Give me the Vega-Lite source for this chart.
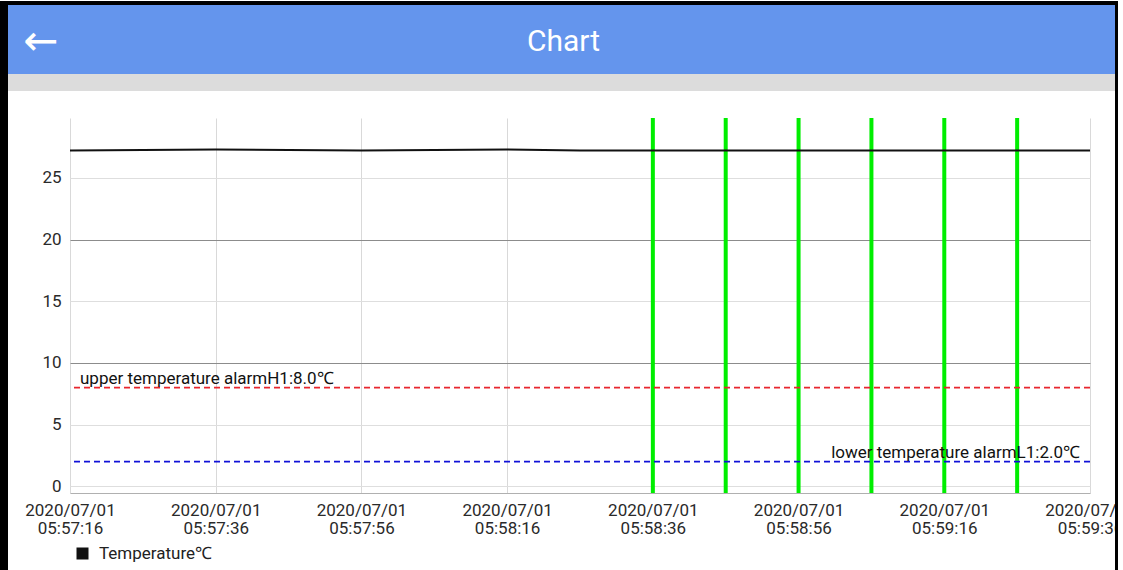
{
  "$schema": "https://vega.github.io/schema/vega-lite/v6.json",
  "padding": 0,
  "background": "white",
  "spacing": 0,
  "bounds": "flush",
  "align": "each",
  "columns": 6,
  "data": {"values": [{}]},
  "config": {
    "font": "Roboto",
    "view": {"stroke": null},
    "concat": {"spacing": 0}
  },
  "concat": [
    {"width": 8, "height": 4, "view": {"fill": "black", "stroke": null}, "mark": {"type": "point", "opacity": 0}, "encoding": {}},
    {"width": 62, "height": 4, "view": {"fill": "black", "stroke": null}, "mark": {"type": "point", "opacity": 0}, "encoding": {}},
    {"width": 1020, "height": 4, "view": {"fill": "black", "stroke": null}, "mark": {"type": "point", "opacity": 0}, "encoding": {}},
    {"width": 25, "height": 4, "view": {"fill": "black", "stroke": null}, "mark": {"type": "point", "opacity": 0}, "encoding": {}},
    {"width": 3, "height": 4, "view": {"fill": "black", "stroke": null}, "mark": {"type": "point", "opacity": 0}, "encoding": {}},
    {"width": 25, "height": 4, "view": {"fill": "white", "stroke": null}, "mark": {"type": "point", "opacity": 0}, "encoding": {}},

    {"width": 8, "height": 69, "view": {"fill": "black", "stroke": null}, "mark": {"type": "point", "opacity": 0}, "encoding": {}},
    {
      "width": 62, "height": 69, "view": {"fill": "#6495ED", "stroke": null},
      "data": {"values": [{"label": "←", "pos": 0.53}]},
      "mark": {"type": "text", "font": "DejaVu Sans", "fontSize": 42, "color": "white", "baseline": "middle", "align": "center", "dy": 2},
      "encoding": {
        "x": {"field": "pos", "type": "quantitative", "scale": {"domain": [0, 1]}, "axis": null},
        "text": {"field": "label"}
      }
    },
    {
      "width": 1020, "height": 69, "view": {"fill": "#6495ED", "stroke": null},
      "data": {"values": [{"label": "Chart", "pos": 0.4838}]},
      "mark": {"type": "text", "font": "Roboto", "fontSize": 30, "color": "white", "baseline": "middle", "align": "center", "dy": 2},
      "encoding": {
        "x": {"field": "pos", "type": "quantitative", "scale": {"domain": [0, 1]}, "axis": null},
        "text": {"field": "label"}
      }
    },
    {"width": 25, "height": 69, "view": {"fill": "#6495ED", "stroke": null}, "mark": {"type": "point", "opacity": 0}, "encoding": {}},
    {"width": 3, "height": 69, "view": {"fill": "black", "stroke": null}, "mark": {"type": "point", "opacity": 0}, "encoding": {}},
    {"width": 25, "height": 69, "view": {"fill": "white", "stroke": null}, "mark": {"type": "point", "opacity": 0}, "encoding": {}},

    {"width": 8, "height": 17, "view": {"fill": "black", "stroke": null}, "mark": {"type": "point", "opacity": 0}, "encoding": {}},
    {"width": 62, "height": 17, "view": {"fill": "#DCDCDC", "stroke": null}, "mark": {"type": "point", "opacity": 0}, "encoding": {}},
    {"width": 1020, "height": 17, "view": {"fill": "#DCDCDC", "stroke": null}, "mark": {"type": "point", "opacity": 0}, "encoding": {}},
    {"width": 25, "height": 17, "view": {"fill": "#DCDCDC", "stroke": null}, "mark": {"type": "point", "opacity": 0}, "encoding": {}},
    {"width": 3, "height": 17, "view": {"fill": "black", "stroke": null}, "mark": {"type": "point", "opacity": 0}, "encoding": {}},
    {"width": 25, "height": 17, "view": {"fill": "white", "stroke": null}, "mark": {"type": "point", "opacity": 0}, "encoding": {}},

    {"width": 8, "height": 27, "view": {"fill": "black", "stroke": null}, "mark": {"type": "point", "opacity": 0}, "encoding": {}},
    {"width": 62, "height": 27, "mark": {"type": "point", "opacity": 0}, "encoding": {}},
    {"width": 1020, "height": 27, "mark": {"type": "point", "opacity": 0}, "encoding": {}},
    {"width": 25, "height": 27, "mark": {"type": "point", "opacity": 0}, "encoding": {}},
    {"width": 3, "height": 27, "view": {"fill": "black", "stroke": null}, "mark": {"type": "point", "opacity": 0}, "encoding": {}},
    {"width": 25, "height": 27, "view": {"fill": "white", "stroke": null}, "mark": {"type": "point", "opacity": 0}, "encoding": {}},

    {"width": 8, "height": 375, "view": {"fill": "black", "stroke": null}, "mark": {"type": "point", "opacity": 0}, "encoding": {}},
    {"width": 62, "height": 375, "mark": {"type": "point", "opacity": 0}, "encoding": {}},
    {
      "width": 1020, "height": 375,
      "layer": [
        {
          "data": {"values": [
            {"time": "2020-07-01T05:58:36"},
            {"time": "2020-07-01T05:58:46"},
            {"time": "2020-07-01T05:58:56"},
            {"time": "2020-07-01T05:59:06"},
            {"time": "2020-07-01T05:59:16"},
            {"time": "2020-07-01T05:59:26"}
          ]},
          "mark": {"type": "rule", "color": "#00EE00", "strokeWidth": 4},
          "encoding": {
            "x": {"field": "time", "type": "temporal"}
          }
        },
        {
          "data": {"values": [{"limit": 8}]},
          "mark": {"type": "rule", "color": "#E8262E", "strokeWidth": 1.7, "strokeDash": [6, 4]},
          "encoding": {"y": {"field": "limit", "type": "quantitative"}}
        },
        {
          "data": {"values": [{"limit": 2}]},
          "mark": {"type": "rule", "color": "#1010D8", "strokeWidth": 1.7, "strokeDash": [6, 4]},
          "encoding": {"y": {"field": "limit", "type": "quantitative"}}
        },
        {
          "data": {"values": [
            {"time": "2020-07-01T05:57:16", "temp": 27.22, "series": "Temperature℃"},
            {"time": "2020-07-01T05:57:26", "temp": 27.26, "series": "Temperature℃"},
            {"time": "2020-07-01T05:57:36", "temp": 27.3, "series": "Temperature℃"},
            {"time": "2020-07-01T05:57:46", "temp": 27.26, "series": "Temperature℃"},
            {"time": "2020-07-01T05:57:56", "temp": 27.22, "series": "Temperature℃"},
            {"time": "2020-07-01T05:58:06", "temp": 27.26, "series": "Temperature℃"},
            {"time": "2020-07-01T05:58:16", "temp": 27.3, "series": "Temperature℃"},
            {"time": "2020-07-01T05:58:26", "temp": 27.22, "series": "Temperature℃"},
            {"time": "2020-07-01T05:58:36", "temp": 27.22, "series": "Temperature℃"},
            {"time": "2020-07-01T05:58:46", "temp": 27.22, "series": "Temperature℃"},
            {"time": "2020-07-01T05:58:56", "temp": 27.22, "series": "Temperature℃"},
            {"time": "2020-07-01T05:59:06", "temp": 27.22, "series": "Temperature℃"},
            {"time": "2020-07-01T05:59:16", "temp": 27.22, "series": "Temperature℃"},
            {"time": "2020-07-01T05:59:26", "temp": 27.22, "series": "Temperature℃"},
            {"time": "2020-07-01T05:59:36", "temp": 27.22, "series": "Temperature℃"}
          ]},
          "mark": {"type": "line", "strokeWidth": 2},
          "encoding": {
            "x": {
              "field": "time", "type": "temporal",
              "scale": {"domain": [
                {"year": 2020, "month": 7, "date": 1, "hours": 5, "minutes": 57, "seconds": 16},
                {"year": 2020, "month": 7, "date": 1, "hours": 5, "minutes": 59, "seconds": 36}
              ], "nice": false},
              "axis": {
                "title": null,
                "values": [
                  {"year": 2020, "month": 7, "date": 1, "hours": 5, "minutes": 57, "seconds": 16},
                  {"year": 2020, "month": 7, "date": 1, "hours": 5, "minutes": 57, "seconds": 36},
                  {"year": 2020, "month": 7, "date": 1, "hours": 5, "minutes": 57, "seconds": 56},
                  {"year": 2020, "month": 7, "date": 1, "hours": 5, "minutes": 58, "seconds": 16},
                  {"year": 2020, "month": 7, "date": 1, "hours": 5, "minutes": 58, "seconds": 36},
                  {"year": 2020, "month": 7, "date": 1, "hours": 5, "minutes": 58, "seconds": 56},
                  {"year": 2020, "month": 7, "date": 1, "hours": 5, "minutes": 59, "seconds": 16},
                  {"year": 2020, "month": 7, "date": 1, "hours": 5, "minutes": 59, "seconds": 36}
                ],
                "labelExpr": "[timeFormat(datum.value, '%Y/%m/%d'), timeFormat(datum.value, '%H:%M:%S')]",
                "labelFont": "Roboto",
                "labelFontSize": 17,
                "labelColor": "#2a2a2a",
                "labelAlign": "center",
                "labelBaseline": "top",
                "labelLineHeight": 18,
                "labelPadding": 9,
                "labelOverlap": false,
                "labelFlush": false,
                "labelBound": false,
                "ticks": false,
                "domain": true,
                "domainColor": "#b0b0b0",
                "domainWidth": 1,
                "grid": true,
                "gridColor": "#d9d9d9",
                "gridWidth": 1
              }
            },
            "y": {
              "field": "temp", "type": "quantitative",
              "scale": {"domain": [-0.55, 29.85], "nice": false, "zero": false},
              "axis": {
                "title": null,
                "values": [0, 5, 10, 15, 20, 25],
                "labelFont": "Roboto",
                "labelFontSize": 17,
                "labelColor": "#2a2a2a",
                "labelPadding": 9,
                "ticks": false,
                "domain": false,
                "grid": true,
                "gridColor": {"condition": {"test": "datum.value === 20 || datum.value === 10", "value": "#8c8c8c"}, "value": "#dedede"},
                "gridWidth": 1
              }
            },
            "color": {
              "field": "series", "type": "nominal",
              "scale": {"range": ["#111111"]},
              "legend": {
                "title": null,
                "orient": "none",
                "legendX": 74,
                "legendY": 544,
                "symbolType": "square",
                "symbolSize": 144,
                "symbolStrokeWidth": 0,
                "symbolFillColor": "#111111",
                "labelFont": "Roboto",
                "labelFontSize": 17,
                "labelColor": "#222222",
                "labelOffset": 8,
                "encode": {"symbols": {"update": {"fill": {"value": "#111111"}, "stroke": {"value": "#111111"}, "strokeWidth": {"value": 0}}}}
              }
            }
          }
        },
        {
          "data": {"values": [{"time": "2020-07-01T05:57:16", "value": 8, "label": "upper temperature alarmH1:8.0℃"}]},
          "mark": {"type": "text", "fontSize": 17, "font": "Roboto", "color": "#111111", "align": "left", "baseline": "alphabetic", "dx": 10, "dy": -4},
          "encoding": {
            "x": {"field": "time", "type": "temporal"},
            "y": {"field": "value", "type": "quantitative"},
            "text": {"field": "label"}
          }
        },
        {
          "data": {"values": [{"time": "2020-07-01T05:59:36", "value": 2, "label": "lower temperature alarmL1:2.0℃"}]},
          "mark": {"type": "text", "fontSize": 17, "font": "Roboto", "color": "#111111", "align": "right", "baseline": "alphabetic", "dx": -10, "dy": -4},
          "encoding": {
            "x": {"field": "time", "type": "temporal"},
            "y": {"field": "value", "type": "quantitative"},
            "text": {"field": "label"}
          }
        }
      ]
    },
    {"width": 25, "height": 375, "mark": {"type": "point", "opacity": 0}, "encoding": {}},
    {"width": 3, "height": 375, "view": {"fill": "black", "stroke": null}, "mark": {"type": "point", "opacity": 0}, "encoding": {}},
    {"width": 25, "height": 375, "view": {"fill": "white", "stroke": null}, "mark": {"type": "point", "opacity": 0}, "encoding": {}},

    {"width": 8, "height": 78, "view": {"fill": "black", "stroke": null}, "mark": {"type": "point", "opacity": 0}, "encoding": {}},
    {"width": 62, "height": 78, "mark": {"type": "point", "opacity": 0}, "encoding": {}},
    {"width": 1020, "height": 78, "mark": {"type": "point", "opacity": 0}, "encoding": {}},
    {"width": 25, "height": 78, "mark": {"type": "point", "opacity": 0}, "encoding": {}},
    {"width": 3, "height": 78, "view": {"fill": "black", "stroke": null}, "mark": {"type": "point", "opacity": 0}, "encoding": {}},
    {"width": 25, "height": 78, "view": {"fill": "white", "stroke": null}, "mark": {"type": "point", "opacity": 0}, "encoding": {}}
  ]
}
